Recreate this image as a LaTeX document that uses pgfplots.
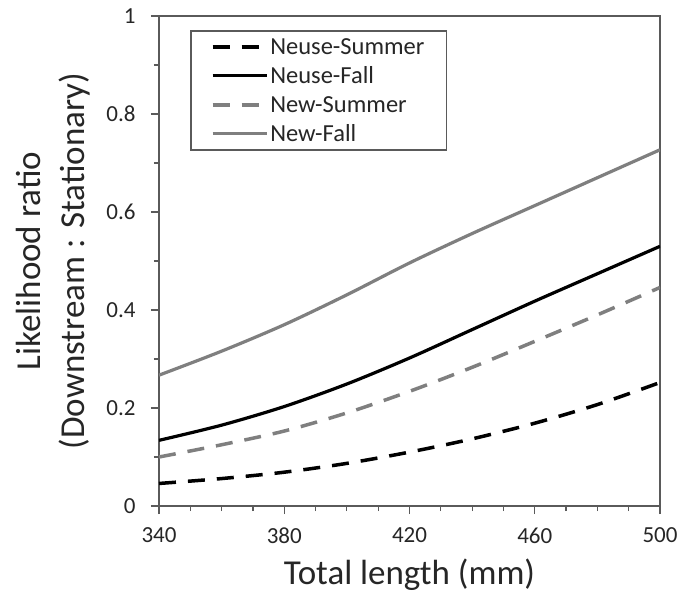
\documentclass[border=0pt]{standalone}
\usepackage{pgfplots}
\pgfplotsset{compat=1.18}
\usepackage{fontspec}
\setmainfont{Carlito}
\definecolor{axisgray}{HTML}{5A5A5A}
\definecolor{curvegray}{HTML}{7F7F7F}
\definecolor{textgray}{HTML}{262626}
\begin{document}
\begin{tikzpicture}
\begin{axis}[
    scale only axis,
    width=501pt, height=490pt,
    xmin=340, xmax=500, ymin=0, ymax=1,
    xtick={340,380,...,500},
    ytick={0,0.2,...,1},
    extra x ticks={350,360,370,390,400,410,430,440,450,470,480,490},
    extra y ticks={0.1,0.3,0.5,0.7,0.9},
    extra x tick labels={}, extra y tick labels={},
    extra tick style={major tick length=5pt},
    tick pos=left,
    tick align=outside,
    major tick length=8pt,
    tick style={axisgray, line width=1.2pt},
    axis line style={axisgray, line width=1.5pt},
    /pgf/number format/assume math mode=true,
    ticklabel style={font=\fontsize{23}{27}\selectfont, text=textgray},
    yticklabel style={/pgf/number format/fixed, xshift=-12pt},
    xticklabel style={yshift=-10pt},
    xlabel={Total length (mm)},
    ylabel={Likelihood ratio\\(Downstream : Stationary)},
    label style={font=\fontsize{35}{44}\selectfont, text=textgray},
    xlabel style={at={(axis description cs:0.5,-0.14)}, anchor=center},
    ylabel style={at={(axis description cs:-0.212,0.5)}, anchor=center, align=center},
    legend style={
        at={(rel axis cs:0.062,0.9705)}, anchor=north west,
        draw=axisgray, line width=1.5pt,
        font=\fontsize{24.5}{28}\selectfont, text=textgray,
        row sep=7pt, inner xsep=20pt, inner ysep=5pt,
        cells={anchor=west},
    },
    legend image code/.code={\draw[#1] (0pt,0pt) -- (54pt,0pt);},
]
\addplot[black, line width=3.5pt, dash pattern=on 17pt off 12pt, smooth] coordinates {
    (340,0.046) (360,0.056) (380,0.069) (400,0.087) (420,0.110)
    (440,0.137) (460,0.169) (480,0.207) (500,0.252)
};
\addplot[black, line width=3.2pt, smooth] coordinates {
    (340,0.134) (360,0.165) (380,0.203) (400,0.249) (420,0.302)
    (440,0.360) (460,0.418) (480,0.474) (500,0.530)
};
\addplot[curvegray, line width=3.5pt, dash pattern=on 17pt off 12pt, smooth] coordinates {
    (340,0.100) (360,0.125) (380,0.153) (400,0.190) (420,0.234)
    (440,0.283) (460,0.336) (480,0.390) (500,0.446)
};
\addplot[curvegray, line width=3.2pt, smooth] coordinates {
    (340,0.267) (360,0.316) (380,0.370) (400,0.431) (420,0.496)
    (440,0.556) (460,0.613) (480,0.670) (500,0.727)
};
\legend{Neuse-Summer, Neuse-Fall, New-Summer, New-Fall}
\end{axis}
\pgfresetboundingbox
\useasboundingbox ([xshift=-159pt,yshift=-94pt]current axis.south west) rectangle ([xshift=32pt,yshift=16pt]current axis.north east);
\end{tikzpicture}
\end{document}
